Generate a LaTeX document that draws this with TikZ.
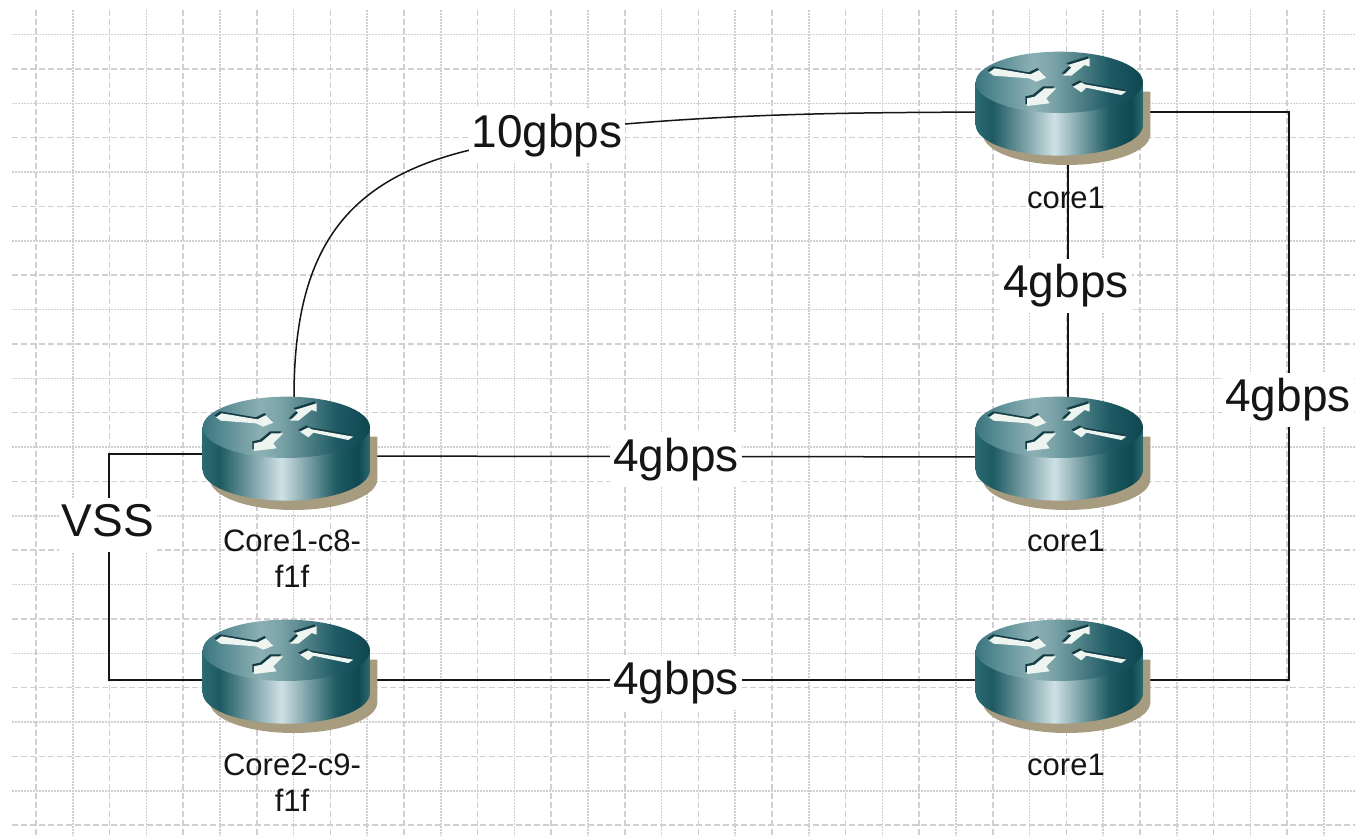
\documentclass[tikz,border=0pt]{standalone}
\usepackage{fontspec}
\setmainfont{Liberation Sans}
\usetikzlibrary{calc}
\definecolor{gridc}{HTML}{D0D0D0}
\definecolor{inkc}{HTML}{151515}
\definecolor{rsA}{HTML}{2C6A72}\definecolor{rsB}{HTML}{1D5A62}\definecolor{rsC}{HTML}{CFE1E5}\definecolor{rsD}{HTML}{0F4850}
\definecolor{rtA}{HTML}{3C7680}\definecolor{rtB}{HTML}{8BB0B4}\definecolor{rtC}{HTML}{7CA4A8}\definecolor{rtD}{HTML}{1E5A64}\definecolor{rtE}{HTML}{0F4650}
\definecolor{shadowc}{HTML}{A89C80}\definecolor{arrowc}{HTML}{EEF5F0}\definecolor{arrowd}{HTML}{143C44}
\pgfdeclarehorizontalshading{routerside}{100bp}{
 color(0bp)=(rsA); color(25bp)=(rsA); color(30bp)=(rsB); color(48.5bp)=(rsC); color(65bp)=(rsB); color(71.5bp)=(rsD); color(75bp)=(rsA); color(100bp)=(rsA)}
\pgfdeclarehorizontalshading{routertop}{100bp}{
 color(0bp)=(rtA); color(25bp)=(rtA); color(42bp)=(rtB); color(48bp)=(rtC); color(65bp)=(rtD); color(75bp)=(rtE); color(100bp)=(rtE)}
\tikzset{
 x=1pt,y=-1pt,
 gridline/.style={gridc,line width=1.5pt},
 griddash/.style={gridline,dash pattern=on 6pt off 3pt},
 griddot/.style={gridline,dash pattern=on 1.5pt off 1.5pt},
 link/.style={inkc,line width=1.5pt},
 bigl/.style={fill=white,text=inkc,anchor=base,inner ysep=0pt,inner xsep=3pt,text height=38pt,text depth=16pt,font=\fontsize{46}{50}\selectfont},
 smalll/.style={text=inkc,inner sep=1pt,align=center,font=\fontsize{31}{36}\selectfont},
 routerbox/.style={inner sep=0pt,minimum width=174pt,minimum height=118pt},
 routerpic/.pic={
  \begin{scope}[x=0.3333pt,y=-0.3333pt]
   \fill[shadowc] (90,170) -- (90,298) .. controls (90,348.8) and (202.4,390) .. (341,390) .. controls (479.6,390) and (592,348.8) .. (592,298) -- (592,170) -- cycle;
   \shade[shading=routerside] (68,142) -- (68,270) .. controls (68,320.8) and (180.4,362) .. (319,362) .. controls (457.6,362) and (570,320.8) .. (570,270) -- (570,142) -- cycle;
   \shade[shading=routertop] (68,142) .. controls (68,91.2) and (180.4,50) .. (319,50) .. controls (457.6,50) and (570,91.2) .. (570,142) .. controls (570,192.8) and (457.6,234) .. (319,234) .. controls (180.4,234) and (68,192.8) .. (68,142) -- cycle;
   \foreach \dx/\dy/\col in {-5/-6/arrowd,0/0/arrowc}{
    \begin{scope}[shift={(\dx,\dy)}]
     \fill[\col] (108,112) -- (125,100) -- (232,118) -- (258,105) -- (280,128) -- (250,140) -- (228,130) -- (122,122) -- cycle;
     \fill[\col] (330,122) -- (355,98) -- (345,90) -- (410,70) -- (410,95) -- (395,90) -- (355,122) -- cycle;
     \fill[\col] (360,155) -- (385,142) -- (395,148) -- (520,170) -- (505,180) -- (400,158) -- (385,172) -- cycle;
     \fill[\col] (222,190) -- (245,185) -- (275,160) -- (310,160) -- (280,190) -- (290,205) -- (222,213) -- cycle;
    \end{scope}
   }
  \end{scope}
 }
}
\begin{document}
\begin{tikzpicture}
\useasboundingbox (0,0) rectangle (1355,836);
\fill[white] (0,0) rectangle (1355,836);
% grid
\foreach \i in {0,2,...,36}{\pgfmathsetmacro\gx{36+36.8*\i}\draw[griddash] (\gx,10) -- (\gx,836);}
\foreach \i in {1,3,...,35}{\pgfmathsetmacro\gx{36+36.8*\i}\draw[griddot] (\gx,10) -- (\gx,836);}
\foreach \i in {0,2,...,22}{\pgfmathsetmacro\gy{69+34.37*\i}\draw[griddash] (12,\gy) -- (1355,\gy);}
\foreach \i in {-1,1,...,21}{\pgfmathsetmacro\gy{69+34.37*\i}\draw[griddot] (12,\gy) -- (1355,\gy);}
% router anchors
\node[routerbox] (ra) at (290,456) {};
\node[routerbox] (rb) at (290,680) {};
\node[routerbox] (rc) at (1063,112) {};
\node[routerbox] (rd) at (1063,457) {};
\node[routerbox] (re) at (1063,680) {};
\coordinate (vssL) at (109,454);
\coordinate (vssB) at (109,680);
\coordinate (rtop) at (1289,112);
\coordinate (rbot) at (1289,680);
\coordinate (ra1) at (294,397);
\coordinate (rc1) at (1068,160);
\coordinate (rd1) at (1068,397);
\coordinate (c10a) at (470,150);
\coordinate (c10b) at (625,124);
% connectors
\draw[link] (ra1) .. controls (294,250) and (345,180) .. (c10a);
\draw[link] (c10b) .. controls (760,113) and (860,112) .. (rc.center);
\draw[link] (ra.center) -- (rd.center);
\draw[link] (rb.center) -- (re.center);
\draw[link] (rc1) -- (rd1);
\draw[link] (ra.center |- vssL) -- (vssL) -- (vssB) -- (rb.center);
\draw[link] (rc.center) -- (rtop) -- (rbot) -- (re.center);
% link labels
\node[bigl] (l10) at (547,147) {10gbps};
\node[bigl] (l4a) at (1066,297) {4gbps};
\node[bigl] (l4b) at (676,471) {4gbps};
\node[bigl] (l4c) at (676,694) {4gbps};
\node[bigl] (l4d) at (1288,411) {4gbps};
\node[bigl] (lv) at (108,536) {VSS};
% routers
\pic at (180,380) {routerpic};
\pic at (180,603) {routerpic};
\pic at (953,35) {routerpic};
\pic at (953,380) {routerpic};
\pic at (953,603) {routerpic};
% names
\node[smalll] (na) at (292,559) {Core1-c8-\\f1f};
\node[smalll] (nb) at (292,783) {Core2-c9-\\f1f};
\node[smalll] (nc) at (1066,198) {core1};
\node[smalll] (nd) at (1066,541) {core1};
\node[smalll] (ne) at (1066,765) {core1};
\end{tikzpicture}
\end{document}
